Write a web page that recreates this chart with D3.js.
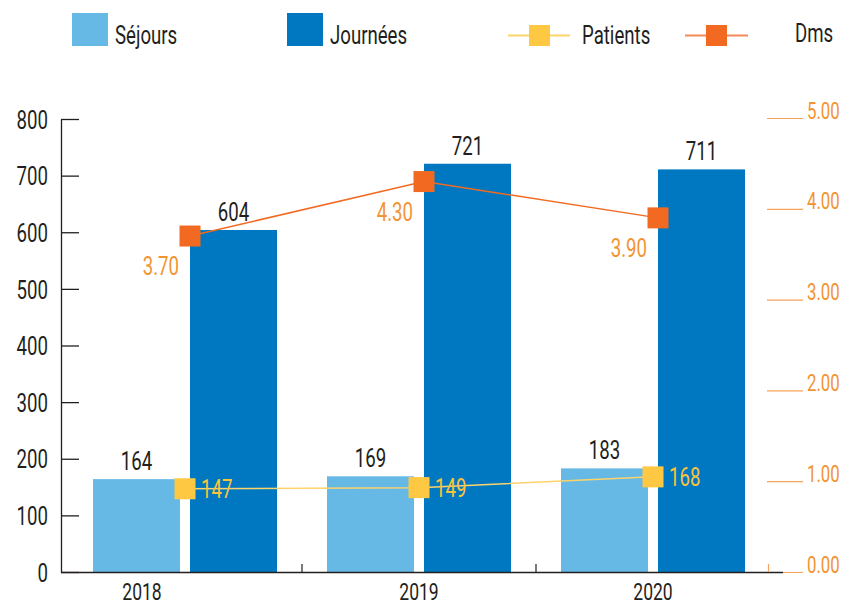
<!DOCTYPE html>
<html><head><meta charset="utf-8">
<script src="https://cdn.jsdelivr.net/npm/d3@7/dist/d3.min.js"></script>
<style>
body{margin:0;background:#fff;}
text{font-family:Roboto,"Liberation Sans",sans-serif;font-weight:400;}
</style></head>
<body>
<svg id="c" width="844" height="605"></svg>
<script>
const years = ["2018","2019","2020"];
const sejours = [164,169,183];
const journees = [604,721,711];
const patients = [147,149,168];
const dms = [3.70,4.30,3.90];
const leftTicks = [0,100,200,300,400,500,600,700,800];
const rightTicks = [0,1,2,3,4,5];

const C = {sej:"#66b9e5", jou:"#0078c1", pat:"#fec843", patLine:"#fdd36b", dms:"#f26a21", dmsLine:"#f26a21", dmsLbl:"#f39433", axisR:"#f39433", txt:"#231f20"};
const FS = 25.5;
const K = 0.73; // horizontal condensation to mimic condensed face

const svg = d3.select("#c");
const yL = d3.scaleLinear().domain([0,800]).range([572,119]);
const yR = d3.scaleLinear().domain([0,5]).range([572,118]);
const x0 = d3.scaleBand().domain(years).range([68,770]).padding(0);
const x1 = d3.scaleBand().domain(["s","j"]).range([25,209]).paddingInner(10/97).paddingOuter(0);
const cx = d => x0(d) + x0.bandwidth()/2;

// left axis
const gL = svg.append("g").attr("transform","translate(61,0)")
  .call(d3.axisLeft(yL).tickValues(leftTicks).tickSizeInner(-18).tickSizeOuter(0).tickPadding(13).tickFormat(d3.format("d")));
gL.selectAll("line,path").attr("stroke","#231f20").attr("stroke-width",1.3);
gL.selectAll("text").attr("font-size",FS).attr("fill",C.txt).attr("dy","0.36em");

// right axis
const gR = svg.append("g").attr("transform","translate(767,0)")
  .call(d3.axisRight(yR).tickValues(rightTicks).tickSize(36).tickPadding(4).tickFormat(d3.format(".2f")));
gR.select(".domain").remove();
gR.selectAll("line").attr("stroke","#f7a25a").attr("stroke-width",1.2);
gR.selectAll("text").attr("font-size",FS-2.5).attr("fill",C.axisR).attr("dy","0");

// bars
const grp = svg.append("g");
years.forEach((y,i)=>{
  grp.append("rect").attr("x",x0(y)+x1("s")).attr("width",x1.bandwidth())
    .attr("y",yL(sejours[i])).attr("height",yL(0)-yL(sejours[i])).attr("fill",C.sej);
  grp.append("rect").attr("x",x0(y)+x1("j")).attr("width",x1.bandwidth())
    .attr("y",yL(journees[i])).attr("height",yL(0)-yL(journees[i])).attr("fill",C.jou);
  grp.append("text").attr("x",x0(y)+x1("s")+x1.bandwidth()/2).attr("y",yL(sejours[i])-9)
    .attr("text-anchor","middle").attr("font-size",FS).attr("fill",C.txt).text(sejours[i]);
  grp.append("text").attr("x",x0(y)+x1("j")+x1.bandwidth()/2).attr("y",yL(journees[i])-9)
    .attr("text-anchor","middle").attr("font-size",FS).attr("fill",C.txt).text(journees[i]);
});

// bottom axis
const gB = svg.append("g").attr("transform","translate(0,572)")
  .call(d3.axisBottom(x0).tickSize(0).tickPadding(11));
gB.select(".domain").remove();
gB.selectAll("text").attr("font-size",FS-1.5).attr("fill",C.txt).attr("dy","0.71em");
gB.selectAll(".tick").filter((d,i)=>i===0).select("text").attr("dx",-43);
svg.append("line").attr("x1",61).attr("x2",783).attr("y1",572.5).attr("y2",572.5).attr("stroke","#231f20").attr("stroke-width",1.3);
years.slice(1).forEach(y=>{
  svg.append("line").attr("x1",x0(y)).attr("x2",x0(y)).attr("y1",564).attr("y2",572).attr("stroke","#231f20").attr("stroke-width",1.2);
});
svg.append("line").attr("x1",768.5).attr("x2",768.5).attr("y1",564).attr("y2",572).attr("stroke","#f7a25a").attr("stroke-width",1.2);

// patients line
const pts = years.map((y,i)=>[cx(y), yL(patients[i])]);
svg.append("path").attr("d",d3.line()(pts)).attr("fill","none").attr("stroke",C.patLine).attr("stroke-width",1.5);
pts.forEach((p,i)=>{
  svg.append("rect").attr("x",p[0]-10.5).attr("y",p[1]-10.5).attr("width",21).attr("height",21).attr("fill",C.pat);
  svg.append("text").attr("x",p[0]+16).attr("y",p[1]).attr("dy","0.36em").attr("font-size",FS).attr("fill","#f9c33d").text(patients[i]);
});

// dms line
const dpts = years.map((y,i)=>[cx(y)+5, yR(dms[i])]);
svg.append("path").attr("d",d3.line()(dpts)).attr("fill","none").attr("stroke",C.dmsLine).attr("stroke-width",1.5);
dpts.forEach((p,i)=>{
  svg.append("rect").attr("x",p[0]-10.5).attr("y",p[1]-10.5).attr("width",21).attr("height",21).attr("fill",C.dms);
  svg.append("text").attr("x",p[0]-11).attr("y",p[1]+39).attr("text-anchor","end").attr("font-size",FS).attr("fill",C.dmsLbl).text(d3.format(".2f")(dms[i]));
});

// legend
const lg = svg.append("g");
lg.append("rect").attr("x",72).attr("y",13).attr("width",36).attr("height",33).attr("fill",C.sej);
lg.append("text").attr("x",115).attr("y",44).attr("font-size",FS).attr("fill",C.txt).text("Séjours");
lg.append("rect").attr("x",287).attr("y",13).attr("width",36).attr("height",33).attr("fill",C.jou);
lg.append("text").attr("x",330).attr("y",44).attr("font-size",FS).attr("fill",C.txt).text("Journées");
lg.append("line").attr("x1",508).attr("x2",570).attr("y1",35.5).attr("y2",35.5).attr("stroke",C.patLine).attr("stroke-width",2);
lg.append("rect").attr("x",529).attr("y",25).attr("width",21).attr("height",21).attr("fill",C.pat);
lg.append("text").attr("x",582).attr("y",44).attr("font-size",FS).attr("fill",C.txt).text("Patients");
lg.append("line").attr("x1",685).attr("x2",748).attr("y1",35.5).attr("y2",35.5).attr("stroke","#f4895a").attr("stroke-width",2);
lg.append("rect").attr("x",706).attr("y",25).attr("width",21).attr("height",21).attr("fill",C.dms);
lg.append("text").attr("x",795).attr("y",42).attr("font-size",FS).attr("fill",C.txt).text("Dms");

// condense every text horizontally
svg.selectAll("text").each(function(){
  const w = this.getComputedTextLength();
  d3.select(this).attr("textLength", w*K).attr("lengthAdjust","spacingAndGlyphs");
});
</script>
</body></html>
